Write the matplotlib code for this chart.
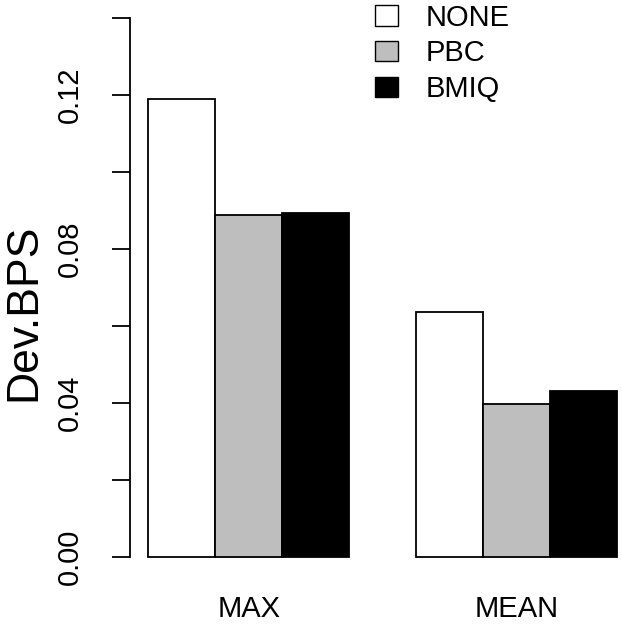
import matplotlib.pyplot as plt
from matplotlib.patches import Patch
import numpy as np

plt.rcParams['font.family'] = ['Liberation Sans', 'DejaVu Sans']

groups = ['MAX', 'MEAN']
methods = ['NONE', 'PBC', 'BMIQ']
colors = ['white', '#bebebe', 'black']
values = {
    'NONE': [0.119, 0.0636],
    'PBC': [0.0888, 0.0397],
    'BMIQ': [0.0894, 0.0431],
}
yticks = [0.00, 0.02, 0.04, 0.06, 0.08, 0.10, 0.12, 0.14]
ylabels = ['0.00', '', '0.04', '', '0.08', '', '0.12', '']

W, H, dpi = 622, 627, 100
fig = plt.figure(figsize=(W / dpi, H / dpi), dpi=dpi)
# plot region like R's barplot (4% axis padding), slightly past the right edge
ax = fig.add_axes([129.6 / W, 48.4 / H, (635.5 - 129.6) / W, (578.6 + 3.6) / H])

# R style positions: bars of width 1, one empty slot between groups
for i, m in enumerate(methods):
    x = np.array([1 + i, 5 + i]) + 0.5
    ax.bar(x, values[m], width=1.0, color=colors[i], edgecolor='black',
           linewidth=1.3)

ax.set_xlim(0.72, 8.28)
ax.set_ylim(-0.0056, 0.1456)
for s in ['top', 'right', 'bottom']:
    ax.spines[s].set_visible(False)
ax.spines['left'].set_bounds(0, 0.14)
ax.spines['left'].set_linewidth(1.3)
ax.set_yticks(yticks)
ax.set_yticklabels(ylabels, rotation=90, va='center', fontsize=21)
ax.tick_params(axis='y', length=13, width=1.3, pad=20)
ax.set_xticks([2.5, 6.5])
ax.set_xticklabels(groups, fontsize=21)
ax.tick_params(axis='x', length=0, pad=12)

fig.text(24 / W, 1 - 312 / H, 'Dev.BPS', rotation=90, fontsize=32,
         ha='center', va='center')

handles = [Patch(facecolor=c, edgecolor='black', linewidth=1.0) for c in colors]
fig.legend(handles, methods, loc='upper left',
           bbox_to_anchor=(360 / W, 1 + 11 / H), frameon=False, fontsize=21,
           handlelength=0.8, handleheight=0.7, labelspacing=0.27,
           handletextpad=0.95, borderpad=0.0)

fig.savefig('out.png', dpi=dpi)
